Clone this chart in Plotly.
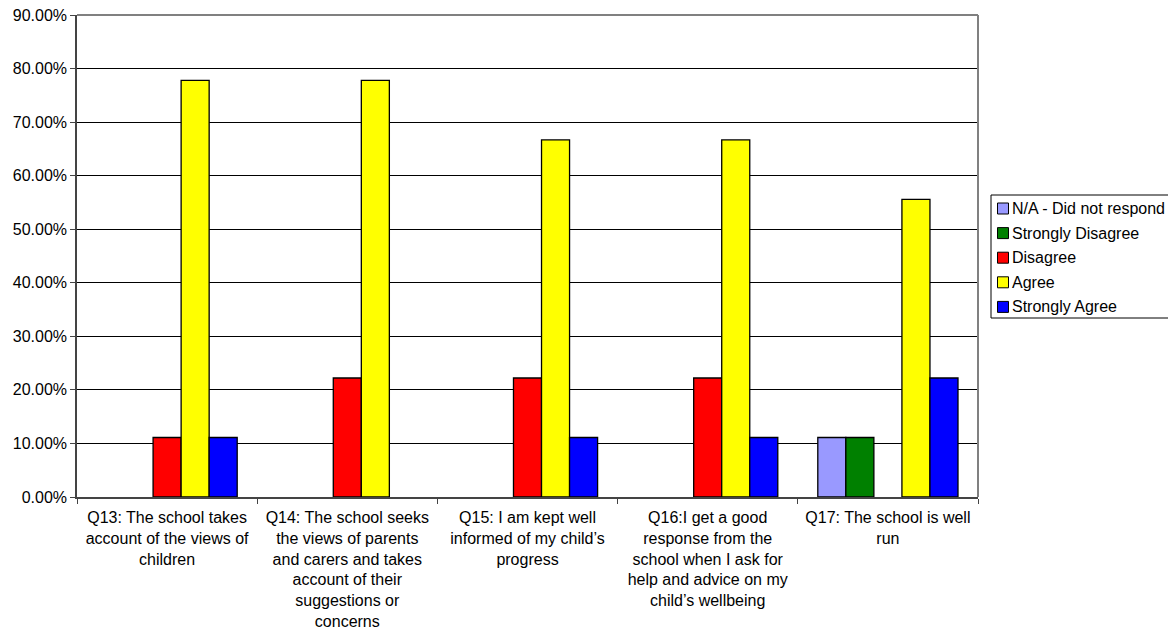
import plotly.graph_objects as go

categories = [
    "Q13: The school takes<br>account of the views of<br>children",
    "Q14: The school seeks<br>the views of parents<br>and carers and takes<br>account of their<br>suggestions or<br>concerns",
    "Q15: I am kept well<br>informed of my child’s<br>progress",
    "Q16:I get a good<br>response from the<br>school when I ask for<br>help and advice on my<br>child’s wellbeing",
    "Q17: The school is well<br>run",
]
series_names = ["N/A - Did not respond", "Strongly Disagree", "Disagree", "Agree", "Strongly Agree"]
na_vals = [0, 0, 0, 0, 11.11]
sd_vals = [0, 0, 0, 0, 11.11]
d_vals = [11.11, 22.22, 22.22, 22.22, 0]
a_vals = [77.78, 77.78, 66.67, 66.67, 55.56]
sa_vals = [11.11, 0, 11.11, 11.11, 22.22]
colors = ["#9999FF", "#008000", "#FF0000", "#FFFF00", "#0000FF"]
y_ticks = [0, 10, 20, 30, 40, 50, 60, 70, 80, 90]

# page has an 8px body margin, so size the figure to the visible area
W, H = 1168, 622
ML, MT, PW, PH = 69, 7, 901, 482
MR, MB = W - ML - PW, H - MT - PH

fig = go.Figure()
for name, vals, col in zip(series_names, [na_vals, sd_vals, d_vals, a_vals, sa_vals], colors):
    fig.add_trace(go.Bar(
        x=categories, y=vals, name=name, showlegend=False,
        marker=dict(color=col,
                    line=dict(color="black", width=[0 if v == 0 else 1.3 for v in vals])),
    ))

font = "Liberation Sans, Arial, sans-serif"
fig.update_layout(
    width=W, height=H,
    margin=dict(l=ML, r=MR, t=MT, b=MB, autoexpand=False),
    barmode="group", bargap=0.222, bargroupgap=0,
    plot_bgcolor="white", paper_bgcolor="white",
    font=dict(family=font, size=16, color="black"),
    showlegend=False,
)
fig.update_xaxes(
    automargin=False, ticklabeloverflow="allow",
    showline=True, linecolor="#444444", linewidth=1.5, mirror=False,
    ticks="outside", tickson="boundaries", ticklen=5, tickcolor="#444444",
    tickfont=dict(size=16), tickangle=0, ticklabelstandoff=5,
)
fig.update_yaxes(
    automargin=False, ticklabeloverflow="allow",
    range=[0, 90], tickvals=y_ticks,
    ticktext=[f"{v:.2f}%" for v in y_ticks],
    showgrid=True, gridcolor="black", gridwidth=1,
    showline=True, linecolor="#444444", linewidth=1.5,
    ticks="outside", ticklen=5, tickcolor="#444444",
    tickfont=dict(size=16), zeroline=False,
)
# plot-area border (top and right), gray
fig.add_shape(type="line", xref="paper", yref="paper", x0=0, x1=1, y0=1, y1=1,
              line=dict(color="#808080", width=2))
fig.add_shape(type="line", xref="paper", yref="paper", x0=1, x1=1, y0=0, y1=1,
              line=dict(color="#808080", width=2))

# legend box drawn in figure pixels (converted to paper coords)
def px(xp):
    return (xp - ML) / PW

def py(yp):
    return (MT + PH - yp) / PH

LX0, LX1, LY0, LY1 = 983, 1164, 187, 310
fig.add_shape(type="rect", xref="paper", yref="paper",
              x0=px(LX0), x1=px(LX1), y0=py(LY1), y1=py(LY0),
              line=dict(color="black", width=1), fillcolor="white")
row_step = 24.6
first_row = 200.5
for i, (name, col) in enumerate(zip(series_names, colors)):
    cy = first_row + i * row_step
    fig.add_shape(type="rect", xref="paper", yref="paper",
                  x0=px(989.5), x1=px(1000.5), y0=py(cy + 5.5), y1=py(cy - 5.5),
                  line=dict(color="black", width=1), fillcolor=col)
    fig.add_annotation(xref="paper", yref="paper", x=px(1002), y=py(cy),
                       xanchor="left", yanchor="middle", showarrow=False,
                       text=name, font=dict(size=16, family=font, color="black"))

fig.write_html("out.html")
